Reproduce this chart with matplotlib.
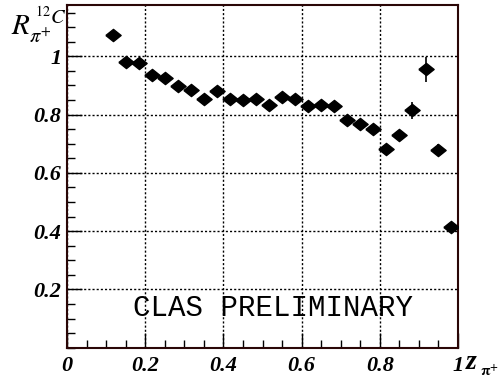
import matplotlib
matplotlib.use('Agg')
import matplotlib.pyplot as plt
from matplotlib.ticker import MultipleLocator, FixedLocator, FixedFormatter

# z bin centres and nuclear ratio for 12C
z = [0.117, 0.150, 0.183, 0.217, 0.250, 0.283, 0.317, 0.350, 0.383,
     0.417, 0.450, 0.483, 0.517, 0.550, 0.583, 0.617, 0.650, 0.683,
     0.717, 0.750, 0.783, 0.817, 0.850, 0.883, 0.917, 0.950, 0.983]
ratio = [1.074, 0.981, 0.976, 0.936, 0.925, 0.897, 0.886, 0.852, 0.881,
         0.853, 0.849, 0.853, 0.832, 0.859, 0.853, 0.828, 0.833, 0.829,
         0.781, 0.768, 0.749, 0.681, 0.731, 0.815, 0.955, 0.679, 0.415]
ratio_err = [0.006, 0.006, 0.006, 0.006, 0.006, 0.006, 0.006, 0.006, 0.006,
             0.006, 0.006, 0.006, 0.006, 0.006, 0.006, 0.006, 0.006, 0.006,
             0.008, 0.008, 0.010, 0.012, 0.015, 0.029, 0.044, 0.021, 0.010]

xticks = [0, 0.2, 0.4, 0.6, 0.8, 1]
xlabels = ['0', '0.2', '0.4', '0.6', '0.8', '1']
yticks = [0.2, 0.4, 0.6, 0.8, 1]
ylabels = ['0.2', '0.4', '0.6', '0.8', '1']

# wide diamond like ROOT's marker
diamond = [(-1, 0), (0, 0.8), (1, 0), (0, -0.8), (-1, 0)]

fig = plt.figure(figsize=(5.03, 3.83), dpi=100)
ax = fig.add_axes([67 / 503, 35.3 / 383, 391 / 503, 342.7 / 383])

ax.errorbar(z, ratio, yerr=ratio_err, fmt='none', ecolor='black',
            elinewidth=1.2, capsize=0, zorder=3)
ax.plot(z, ratio, linestyle='none', marker=diamond, ms=11, color='black',
        zorder=4)

ax.set_xlim(0, 1)
ax.set_ylim(0, 1.176)

ax.xaxis.set_major_locator(FixedLocator(xticks))
ax.xaxis.set_major_formatter(FixedFormatter(xlabels))
ax.yaxis.set_major_locator(FixedLocator(yticks))
ax.yaxis.set_major_formatter(FixedFormatter(ylabels))
ax.xaxis.set_minor_locator(MultipleLocator(0.05))
ax.yaxis.set_minor_locator(MultipleLocator(0.05))

ax.tick_params(which='both', direction='in', top=False, right=False)
ax.tick_params(which='major', length=11, width=1)
ax.tick_params(which='minor', length=6, width=1)
ax.tick_params(axis='x', pad=6)
ax.tick_params(axis='y', pad=4)
for lab in ax.get_xticklabels() + ax.get_yticklabels():
    lab.set_fontfamily('Liberation Serif')
    lab.set_fontweight('bold')
    lab.set_fontstyle('italic')
    lab.set_fontsize(16)

ax.grid(True, which='major', color='black', linestyle=(0, (1.5, 1.5)),
        linewidth=1)

for s in ax.spines.values():
    s.set_color('#2a0606')
    s.set_linewidth(1.5)

ax.text(0.169, 0.136, 'CLAS PRELIMINARY', family='Liberation Mono',
        fontsize=21, va='center', ha='left')

fig.text(0.022, 0.91, r'$R_{\pi^{+}}^{\,^{12}C}$', fontsize=21,
         math_fontfamily='stix')
fig.text(0.927, 0.037, 'z', family='Liberation Serif', weight='bold',
         style='italic', fontsize=20)
fig.text(0.955, 0.018, r'$\mathbf{\pi}^{\mathbf{+}}$', fontsize=11,
         math_fontfamily='stix')

fig.savefig('out.png', dpi=100)
